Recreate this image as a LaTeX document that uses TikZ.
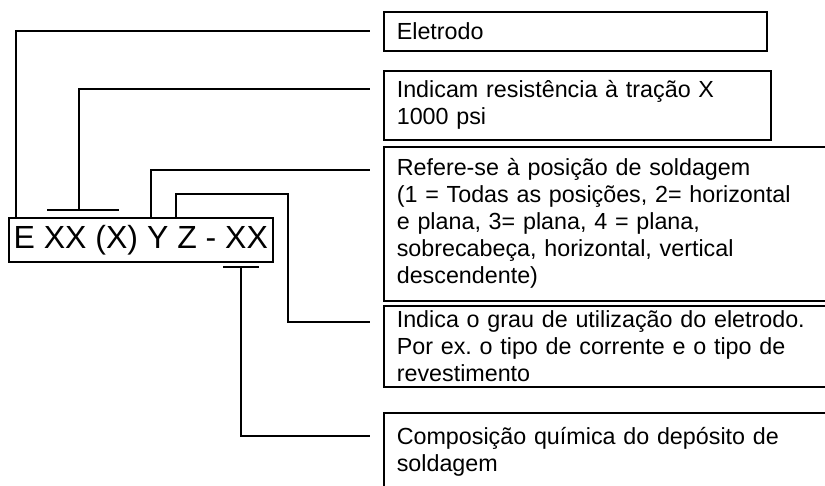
\documentclass[tikz,border=0pt]{standalone}
\usepackage{fontspec}
\setmainfont{Liberation Sans}
\frenchspacing
\begin{document}
\begin{tikzpicture}[x=1pt,y=-1pt,
  desc/.style={draw, line width=1.6pt, anchor=north west, inner xsep=13pt, inner ysep=0pt,
    align=left, font=\fontsize{23.3}{27}\selectfont},
  lead/.style={line width=1.6pt},
  code/.style={draw, line width=1.6pt, anchor=north west, inner sep=0pt,
    font=\fontsize{32}{36}\selectfont}]
\useasboundingbox (0,0) rectangle (825,485);

% description boxes
\node[desc, minimum width=383, minimum height=39, text width=357] (b1) at (383,11) {Eletrodo};
\node[desc, minimum width=387, minimum height=69, text width=361] (b2) at (383,70)
  {Indicam resistência à tração X\\1000 psi};
\node[desc, minimum width=470, minimum height=154, text width=444] (b3) at (383,146)
  {Refere-se à posição de soldagem\\(1 = Todas as posições, 2= horizontal\\e plana, 3= plana, 4 = plana,\\sobrecabeça, horizontal, vertical\\descendente)};
\node[desc, minimum width=470, minimum height=81, text width=444] (b4) at (383,305)
  {Indica o grau de utilização do eletrodo.\\Por ex. o tipo de corrente e o tipo de\\revestimento};
\node[desc, minimum width=470, minimum height=78, text width=444] (b5) at (383,412)
  {Composição química do depósito de\\soldagem};

% code box
\node[code, minimum width=264, minimum height=44] (ebox) at (8,217) {E XX (X) Y Z - XX};

% leader end points
\coordinate (l1) at (370,31);
\coordinate (l2) at (370,89);
\coordinate (l3) at (370,170);
\coordinate (l4) at (370,322);
\coordinate (l5) at (370,436);
\coordinate (t2) at (79,210);
\coordinate (t2a) at (47,210);
\coordinate (t2b) at (119,210);
\coordinate (t5) at (241,267);
\coordinate (t5a) at (223,267);
\coordinate (t5b) at (259,267);
\coordinate (k4) at (288,194);

% leaders
\draw[lead] ([xshift=8pt]ebox.north west) |- (l1);
\draw[lead] (t2a) -- (t2b);
\draw[lead] (t2) |- (l2);
\draw[lead] ([xshift=143pt]ebox.north west) |- (l3);
\draw[lead] ([xshift=168pt]ebox.north west) |- (k4) |- (l4);
\draw[lead] (t5a) -- (t5b);
\draw[lead] (t5) |- (l5);
\end{tikzpicture}
\end{document}
